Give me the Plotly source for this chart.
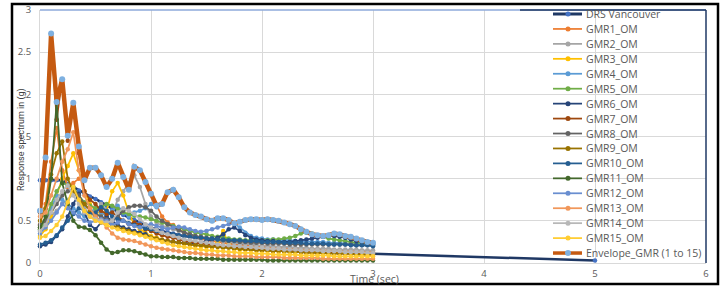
import plotly.graph_objects as go

# ---------------- data ----------------
PERIOD = [0.00, 0.05, 0.10, 0.15, 0.20, 0.25, 0.30, 0.35, 0.40, 0.45,
          0.50, 0.55, 0.60, 0.65, 0.70, 0.75, 0.80, 0.85, 0.90, 0.95,
          1.00, 1.05, 1.10, 1.15, 1.20, 1.25, 1.30, 1.35, 1.40, 1.45,
          1.50, 1.55, 1.60, 1.65, 1.70, 1.75, 1.80, 1.85, 1.90, 1.95,
          2.00, 2.05, 2.10, 2.15, 2.20, 2.25, 2.30, 2.35, 2.40, 2.45,
          2.50, 2.55, 2.60, 2.65, 2.70, 2.75, 2.80, 2.85, 2.90, 2.95,
          3.00]
DRS_PERIOD = PERIOD + [5.00]

DRS_VANCOUVER = [0.98, 0.98, 0.98, 0.98, 0.98, 0.94, 0.90, 0.86, 0.82, 0.79,
                 0.76, 0.72, 0.68, 0.64, 0.60, 0.57, 0.54, 0.51, 0.48, 0.45,
                 0.42, 0.40, 0.38, 0.36, 0.35, 0.33, 0.32, 0.31, 0.30, 0.29,
                 0.28, 0.27, 0.26, 0.25, 0.24, 0.23, 0.22, 0.21, 0.21, 0.20,
                 0.19, 0.185, 0.18, 0.175, 0.17, 0.165, 0.16, 0.155, 0.15, 0.145,
                 0.14, 0.135, 0.13, 0.127, 0.124, 0.121, 0.118, 0.115, 0.113, 0.111,
                 0.11, 0.03]

GMR1 = [0.45, 0.70, 1.20, 1.60, 1.10, 0.90, 0.95, 1.00, 0.98, 1.13,
        1.13, 1.04, 0.90, 1.00, 1.19, 1.02, 0.87, 1.14, 1.10, 0.96,
        0.82, 0.68, 0.55, 0.48, 0.45, 0.40, 0.36, 0.33, 0.31, 0.29,
        0.27, 0.26, 0.25, 0.24, 0.23, 0.22, 0.21, 0.21, 0.20, 0.20,
        0.19, 0.19, 0.18, 0.18, 0.18, 0.17, 0.17, 0.17, 0.16, 0.16,
        0.16, 0.15, 0.15, 0.15, 0.15, 0.14, 0.14, 0.14, 0.14, 0.13,
        0.13]
GMR2 = [0.42, 0.48, 0.55, 0.62, 0.70, 0.75, 0.82, 0.78, 0.65, 0.55,
        0.60, 0.70, 0.62, 0.58, 0.75, 0.85, 0.95, 1.04, 0.90, 0.70,
        0.55, 0.48, 0.44, 0.42, 0.40, 0.38, 0.36, 0.34, 0.32, 0.30,
        0.29, 0.28, 0.27, 0.26, 0.25, 0.24, 0.23, 0.23, 0.22, 0.21,
        0.21, 0.20, 0.20, 0.19, 0.19, 0.19, 0.18, 0.18, 0.18, 0.17,
        0.17, 0.17, 0.17, 0.16, 0.16, 0.16, 0.16, 0.16, 0.15, 0.15,
        0.15]
GMR3 = [0.32, 0.40, 0.55, 0.80, 1.00, 1.15, 1.30, 1.10, 0.85, 0.70,
        0.62, 0.58, 0.62, 0.85, 0.95, 0.80, 0.60, 0.45, 0.40, 0.36,
        0.32, 0.30, 0.28, 0.26, 0.25, 0.24, 0.23, 0.22, 0.21, 0.20,
        0.19, 0.19, 0.25, 0.38, 0.22, 0.17, 0.16, 0.16, 0.16, 0.15,
        0.15, 0.15, 0.14, 0.14, 0.14, 0.14, 0.13, 0.13, 0.13, 0.13,
        0.13, 0.12, 0.12, 0.12, 0.12, 0.12, 0.12, 0.11, 0.11, 0.11,
        0.11]
GMR4 = [0.38, 0.50, 0.65, 0.80, 0.75, 0.70, 0.65, 0.60, 0.55, 0.60,
        0.65, 0.60, 0.55, 0.62, 0.68, 0.60, 0.55, 0.60, 0.62, 0.65,
        0.70, 0.66, 0.70, 0.84, 0.87, 0.78, 0.66, 0.60, 0.57, 0.55,
        0.52, 0.50, 0.53, 0.53, 0.51, 0.47, 0.42, 0.36, 0.32, 0.30,
        0.29, 0.28, 0.28, 0.27, 0.27, 0.27, 0.26, 0.26, 0.26, 0.25,
        0.25, 0.25, 0.24, 0.24, 0.24, 0.23, 0.23, 0.23, 0.22, 0.22,
        0.22]
GMR5 = [0.40, 0.50, 0.70, 0.85, 0.95, 0.92, 0.90, 0.80, 0.72, 0.68,
        0.65, 0.66, 0.70, 0.68, 0.64, 0.60, 0.58, 0.56, 0.55, 0.54,
        0.52, 0.50, 0.48, 0.46, 0.44, 0.42, 0.40, 0.38, 0.36, 0.35,
        0.34, 0.32, 0.31, 0.30, 0.29, 0.28, 0.28, 0.27, 0.27, 0.27,
        0.27, 0.27, 0.28, 0.28, 0.29, 0.30, 0.32, 0.35, 0.36, 0.35,
        0.33, 0.31, 0.29, 0.28, 0.27, 0.26, 0.25, 0.24, 0.24, 0.23,
        0.23]
GMR6 = [0.20, 0.22, 0.25, 0.32, 0.40, 0.55, 0.70, 0.82, 0.60, 0.45,
        0.40, 0.48, 0.55, 0.50, 0.45, 0.42, 0.40, 0.38, 0.36, 0.34,
        0.30, 0.28, 0.27, 0.26, 0.25, 0.24, 0.24, 0.23, 0.23, 0.24,
        0.26, 0.28, 0.30, 0.34, 0.40, 0.42, 0.38, 0.33, 0.30, 0.28,
        0.27, 0.26, 0.26, 0.25, 0.25, 0.25, 0.26, 0.27, 0.28, 0.29,
        0.30, 0.31, 0.32, 0.32, 0.31, 0.30, 0.28, 0.26, 0.25, 0.23,
        0.22]
GMR7 = [0.60, 1.20, 2.72, 1.70, 2.18, 1.45, 1.90, 1.30, 0.85, 0.75,
        0.70, 0.62, 0.58, 0.60, 0.55, 0.50, 0.46, 0.48, 0.45, 0.40,
        0.38, 0.35, 0.33, 0.31, 0.30, 0.28, 0.26, 0.25, 0.24, 0.23,
        0.22, 0.21, 0.20, 0.19, 0.19, 0.18, 0.18, 0.17, 0.17, 0.16,
        0.16, 0.15, 0.15, 0.15, 0.14, 0.14, 0.14, 0.13, 0.13, 0.13,
        0.12, 0.12, 0.12, 0.12, 0.11, 0.11, 0.11, 0.11, 0.10, 0.10,
        0.10]
GMR8 = [0.45, 0.50, 0.60, 0.70, 0.80, 0.85, 0.88, 0.80, 0.70, 0.62,
        0.58, 0.55, 0.52, 0.50, 0.55, 0.62, 0.66, 0.68, 0.68, 0.66,
        0.62, 0.55, 0.50, 0.46, 0.42, 0.39, 0.36, 0.34, 0.32, 0.31,
        0.30, 0.29, 0.28, 0.27, 0.26, 0.26, 0.25, 0.25, 0.24, 0.24,
        0.24, 0.23, 0.23, 0.23, 0.23, 0.22, 0.22, 0.22, 0.22, 0.22,
        0.22, 0.22, 0.22, 0.22, 0.22, 0.22, 0.22, 0.21, 0.21, 0.21,
        0.21]
GMR9 = [0.50, 0.65, 1.05, 1.30, 1.44, 1.00, 0.85, 0.75, 0.70, 0.62,
        0.55, 0.50, 0.48, 0.45, 0.42, 0.40, 0.38, 0.36, 0.34, 0.32,
        0.30, 0.29, 0.27, 0.26, 0.25, 0.24, 0.23, 0.22, 0.21, 0.21,
        0.20, 0.19, 0.19, 0.18, 0.18, 0.17, 0.17, 0.16, 0.16, 0.15,
        0.15, 0.15, 0.14, 0.14, 0.14, 0.13, 0.13, 0.13, 0.12, 0.12,
        0.12, 0.12, 0.11, 0.11, 0.11, 0.11, 0.11, 0.10, 0.10, 0.10,
        0.10]
GMR10 = [0.22, 0.24, 0.27, 0.33, 0.42, 0.50, 0.58, 0.65, 0.62, 0.58,
         0.60, 0.66, 0.62, 0.55, 0.52, 0.50, 0.47, 0.45, 0.43, 0.41,
         0.40, 0.38, 0.36, 0.35, 0.34, 0.33, 0.32, 0.31, 0.30, 0.30,
         0.29, 0.29, 0.28, 0.28, 0.27, 0.27, 0.27, 0.26, 0.26, 0.26,
         0.25, 0.25, 0.25, 0.25, 0.24, 0.24, 0.24, 0.24, 0.23, 0.23,
         0.23, 0.23, 0.22, 0.22, 0.22, 0.22, 0.21, 0.21, 0.21, 0.21,
         0.20]
GMR11 = [0.42, 0.55, 1.00, 1.91, 0.95, 0.70, 0.50, 0.43, 0.42, 0.39,
         0.33, 0.24, 0.16, 0.12, 0.13, 0.15, 0.15, 0.14, 0.12, 0.10,
         0.08, 0.08, 0.07, 0.07, 0.07, 0.06, 0.06, 0.06, 0.05, 0.05,
         0.05, 0.05, 0.05, 0.04, 0.04, 0.04, 0.04, 0.04, 0.04, 0.04,
         0.04, 0.03, 0.03, 0.03, 0.03, 0.03, 0.03, 0.03, 0.03, 0.03,
         0.03, 0.03, 0.03, 0.03, 0.03, 0.03, 0.03, 0.03, 0.03, 0.03,
         0.03]
GMR12 = [0.35, 0.42, 0.50, 0.60, 0.70, 0.65, 0.60, 0.55, 0.50, 0.48,
         0.50, 0.52, 0.50, 0.45, 0.48, 0.50, 0.46, 0.44, 0.42, 0.45,
         0.46, 0.44, 0.42, 0.40, 0.42, 0.43, 0.42, 0.40, 0.38, 0.37,
         0.38, 0.40, 0.42, 0.44, 0.46, 0.47, 0.49, 0.51, 0.52, 0.52,
         0.51, 0.52, 0.51, 0.50, 0.48, 0.46, 0.44, 0.40, 0.37, 0.34,
         0.33, 0.32, 0.33, 0.35, 0.34, 0.32, 0.31, 0.29, 0.27, 0.25,
         0.24]
GMR13 = [0.55, 0.60, 0.80, 1.00, 1.20, 1.35, 1.55, 1.10, 0.80, 0.65,
         0.55, 0.50, 0.42, 0.35, 0.30, 0.28, 0.27, 0.26, 0.24, 0.22,
         0.20, 0.18, 0.17, 0.16, 0.15, 0.14, 0.13, 0.12, 0.12, 0.11,
         0.10, 0.10, 0.09, 0.09, 0.09, 0.08, 0.08, 0.08, 0.08, 0.07,
         0.07, 0.07, 0.07, 0.07, 0.06, 0.06, 0.06, 0.06, 0.06, 0.06,
         0.06, 0.05, 0.05, 0.05, 0.05, 0.05, 0.05, 0.05, 0.05, 0.05,
         0.05]
GMR14 = [0.38, 0.45, 0.60, 0.75, 0.85, 0.92, 0.80, 0.70, 0.60, 0.55,
         0.52, 0.50, 0.48, 0.50, 0.60, 0.65, 0.62, 0.58, 0.52, 0.46,
         0.42, 0.39, 0.36, 0.34, 0.32, 0.30, 0.28, 0.27, 0.26, 0.25,
         0.24, 0.23, 0.22, 0.21, 0.21, 0.20, 0.20, 0.19, 0.19, 0.18,
         0.18, 0.17, 0.17, 0.17, 0.16, 0.16, 0.16, 0.15, 0.15, 0.15,
         0.15, 0.14, 0.14, 0.14, 0.14, 0.13, 0.13, 0.13, 0.13, 0.12,
         0.12]
GMR15 = [0.30, 0.32, 0.38, 0.45, 0.55, 0.72, 0.90, 0.75, 0.62, 0.55,
         0.50, 0.48, 0.45, 0.42, 0.40, 0.38, 0.36, 0.35, 0.33, 0.31,
         0.29, 0.27, 0.25, 0.23, 0.21, 0.20, 0.19, 0.18, 0.17, 0.16,
         0.15, 0.15, 0.14, 0.14, 0.13, 0.13, 0.12, 0.12, 0.12, 0.11,
         0.11, 0.11, 0.10, 0.10, 0.10, 0.10, 0.10, 0.09, 0.09, 0.09,
         0.09, 0.09, 0.09, 0.08, 0.08, 0.08, 0.08, 0.08, 0.08, 0.08,
         0.08]
ENVELOPE = [0.62, 1.25, 2.72, 1.91, 2.18, 1.51, 1.90, 1.38, 0.98, 1.13,
            1.13, 1.04, 0.90, 1.00, 1.19, 1.02, 0.87, 1.14, 1.10, 0.96,
            0.82, 0.68, 0.70, 0.84, 0.87, 0.78, 0.66, 0.60, 0.57, 0.55,
            0.52, 0.50, 0.53, 0.53, 0.51, 0.47, 0.49, 0.51, 0.52, 0.52,
            0.51, 0.52, 0.51, 0.50, 0.48, 0.46, 0.44, 0.40, 0.37, 0.34,
            0.33, 0.32, 0.33, 0.35, 0.34, 0.32, 0.31, 0.29, 0.27, 0.25,
            0.24]

GMR_NAMES = ["GMR1_OM", "GMR2_OM", "GMR3_OM", "GMR4_OM", "GMR5_OM", "GMR6_OM",
             "GMR7_OM", "GMR8_OM", "GMR9_OM", "GMR10_OM", "GMR11_OM", "GMR12_OM",
             "GMR13_OM", "GMR14_OM", "GMR15_OM"]
GMR_VALUES = [GMR1, GMR2, GMR3, GMR4, GMR5, GMR6, GMR7, GMR8, GMR9, GMR10,
              GMR11, GMR12, GMR13, GMR14, GMR15]
GMR_COLORS = ["#ED7D31", "#A5A5A5", "#FFC000", "#5B9BD5", "#70AD47", "#264478",
              "#9E480E", "#636363", "#997300", "#255E91", "#43682B", "#698ED0",
              "#F1975A", "#B7B7B7", "#FFCD33"]

for arr in GMR_VALUES + [ENVELOPE]:
    assert len(arr) == len(PERIOD)
assert len(DRS_VANCOUVER) == len(DRS_PERIOD)

# ---------------- figure ----------------
W, H = 726, 287
ML, MR, MT, MB = 40, 20, 10, 24
PW, PH = W - ML - MR, H - MT - MB


def px(x):
    return (x - ML) / PW


def py(y):
    return (H - MB - y) / PH


fig = go.Figure()

DRS_LINE, DRS_MARK = "#1F3864", "#4472C4"
ENV_LINE, ENV_MARK = "#C55A11", "#7EB0E0"

fig.add_trace(go.Scatter(x=DRS_PERIOD, y=DRS_VANCOUVER, mode="lines+markers",
                         name="DRS Vancouver", cliponaxis=False,
                         line=dict(color=DRS_LINE, width=2.5),
                         marker=dict(color=DRS_MARK, size=4.5)))
for name, vals, col in zip(GMR_NAMES, GMR_VALUES, GMR_COLORS):
    fig.add_trace(go.Scatter(x=PERIOD, y=vals, mode="lines+markers", name=name,
                             cliponaxis=False,
                             line=dict(color=col, width=1.75),
                             marker=dict(color=col, size=4.5)))
fig.add_trace(go.Scatter(x=PERIOD, y=ENVELOPE, mode="lines+markers",
                         name="Envelope_GMR (1 to 15)", cliponaxis=False,
                         line=dict(color=ENV_LINE, width=4.5),
                         marker=dict(color=ENV_MARK, size=6)))

shapes = []
annotations = []

# hand-drawn legend (Excel style, tight row spacing)
legend_names = ["DRS Vancouver"] + GMR_NAMES + ["Envelope_GMR (1 to 15)"]
legend_lines = [DRS_LINE] + GMR_COLORS + [ENV_LINE]
legend_marks = [DRS_MARK] + GMR_COLORS + [ENV_MARK]
legend_widths = [3] + [1.75] * 15 + [3.5]
for i, (nm, lc, mc, lw) in enumerate(zip(legend_names, legend_lines, legend_marks, legend_widths)):
    yy = py(14 + 14.94 * i)
    shapes.append(dict(type="line", xref="paper", yref="paper",
                       x0=px(553), x1=px(582), y0=yy, y1=yy,
                       line=dict(color=lc, width=lw)))
    r = 3 if i == len(legend_names) - 1 else 2.5
    shapes.append(dict(type="circle", xref="paper", yref="paper",
                       xsizemode="pixel", ysizemode="pixel",
                       xanchor=px(568), yanchor=yy,
                       x0=-r, x1=r, y0=-r, y1=r,
                       fillcolor=mc, line=dict(width=0)))
    annotations.append(dict(text=nm, xref="paper", yref="paper",
                            x=px(584), y=yy, xanchor="left", yanchor="middle",
                            showarrow=False,
                            font=dict(family="Open Sans", size=10.5, color="#595959")))

# plot-area border pieces and outer frame
shapes.append(dict(type="line", xref="paper", yref="paper", x0=0, x1=1, y0=1, y1=1,
                   line=dict(color="#8EAADB", width=1.5)))
shapes.append(dict(type="line", xref="paper", yref="paper", x0=px(520), x1=1, y0=1, y1=1,
                   line=dict(color="#1F3864", width=1.5)))
shapes.append(dict(type="line", xref="paper", yref="paper", x0=1, x1=1, y0=0, y1=1,
                   line=dict(color="#1F3864", width=1.5)))
shapes.append(dict(type="rect", xref="paper", yref="paper",
                   x0=px(12), x1=px(718), y0=py(284), y1=py(4),
                   line=dict(color="#000000", width=2.5)))

annotations.append(dict(text="Response spectrum in (g)", xref="paper", yref="paper",
                        x=px(22), y=py(140), xanchor="center", yanchor="middle",
                        textangle=-90, showarrow=False,
                        font=dict(family="Roboto", size=9, color="#404040")))
annotations.append(dict(text="Time (sec)", xref="paper", yref="paper",
                        x=px(374), y=py(279), xanchor="center", yanchor="middle",
                        showarrow=False,
                        font=dict(family="Open Sans", size=10.5, color="#595959")))

fig.update_layout(
    width=W, height=H,
    margin=dict(l=ML, r=MR, t=MT, b=MB, autoexpand=False),
    paper_bgcolor="white", plot_bgcolor="white",
    showlegend=False,
    shapes=shapes, annotations=annotations,
    font=dict(family="Open Sans", color="#595959"),
    xaxis=dict(range=[0, 6], dtick=1, showgrid=True, gridcolor="#D9D9D9", gridwidth=1,
               zeroline=False, showline=True, linecolor="#D9D9D9", ticks="",
               automargin=False,
               tickfont=dict(size=9.5, color="#595959"), ticklabelstandoff=2),
    yaxis=dict(range=[0, 3], dtick=0.5, showgrid=True, gridcolor="#D9D9D9", gridwidth=1,
               zeroline=False, showline=True, linecolor="#D9D9D9", ticks="",
               automargin=False,
               tickfont=dict(size=9.5, color="#595959"), ticklabelstandoff=6),
)

fig.write_html("out.html",
               config={"displayModeBar": False},
               post_script="document.body.style.margin='0';document.body.style.padding='0';")
